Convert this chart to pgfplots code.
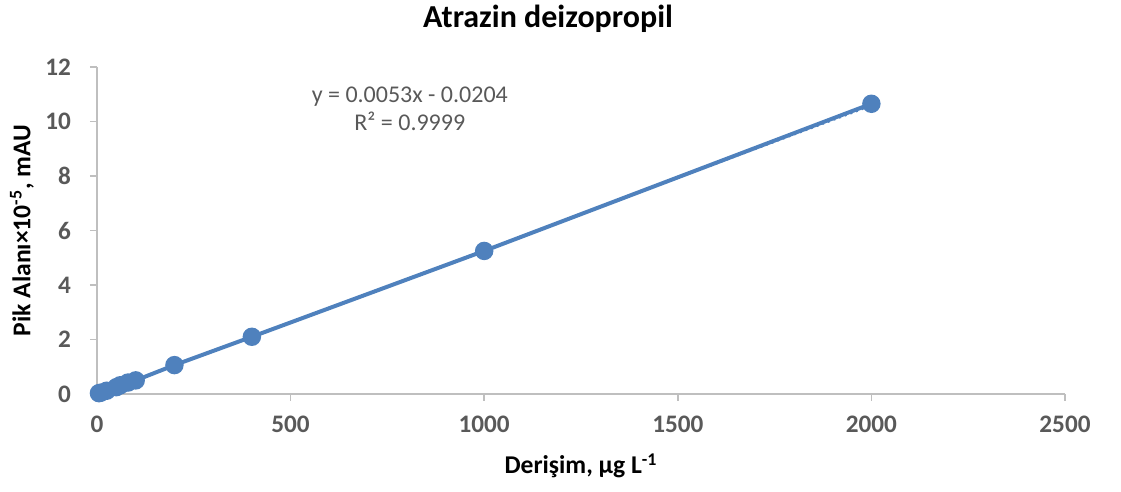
\documentclass[border=0pt]{standalone}
\usepackage{fontspec}
\setmainfont{Carlito}
\usepackage{pgfplots}
\pgfplotsset{compat=1.18}
\definecolor{ser}{HTML}{4F81BD}
\definecolor{tk}{HTML}{595959}
\definecolor{ax}{HTML}{BFBFBF}
\begin{document}
\begin{tikzpicture}
\useasboundingbox (-48.5pt,-49pt) rectangle (512pt,197pt);
\begin{axis}[
  at={(0,0)}, anchor=south west,
  scale only axis, width=484pt, height=163.5pt,
  xmin=0, xmax=2500, ymin=0, ymax=12,
  xtick={0,500,...,2500}, ytick={0,2,...,12},
  axis x line*=bottom, axis y line*=left,
  axis line style={ax, line width=0.8pt, -},
  tick style={ax, line width=0.8pt},
  tick align=outside, major tick length=3.5pt,
  xtick pos=bottom, ytick pos=left,
  /pgf/number format/assume math mode=true,
  /pgf/number format/set thousands separator={},
  ticklabel style={font=\bfseries\fontsize{12.6}{14}\selectfont, text=tk},
  yticklabel style={xshift=-6pt},
  xticklabel style={yshift=-4pt},
  xlabel={Derişim, µg L\textsuperscript{-1}},
  ylabel={Pik Alanı×10\textsuperscript{-5}, mAU},
  label style={font=\bfseries\fontsize{12.8}{14}\selectfont, text=black},
  xlabel style={at={(axis description cs:0.5,-0.22)}, anchor=center},
  ylabel style={at={(axis description cs:-0.0775,0.5)}, anchor=center, rotate=0},
  clip=false,
]
\addplot[ser, dotted, line width=1pt] coordinates {(0,-0.0204) (2000,10.5796)};
\addplot[ser, line width=2pt, mark=*, mark size=3.6pt, mark options={solid, fill=ser, draw=ser}] coordinates {
(5,0.03) (10,0.05) (25,0.12) (50,0.25) (60,0.32) (80,0.42) (100,0.50)
(200,1.06) (400,2.10) (1000,5.25) (2000,10.65)};
\node[font=\fontsize{12}{14}\selectfont, text=tk, align=center] at (axis cs:808,10.45) {y = 0.0053x - 0.0204\\R² = 0.9999};
\node[font=\bfseries\fontsize{16}{19}\selectfont, text=black, anchor=center] at (axis description cs:0.466,1.148) {Atrazin deizopropil};
\end{axis}
\end{tikzpicture}
\end{document}
